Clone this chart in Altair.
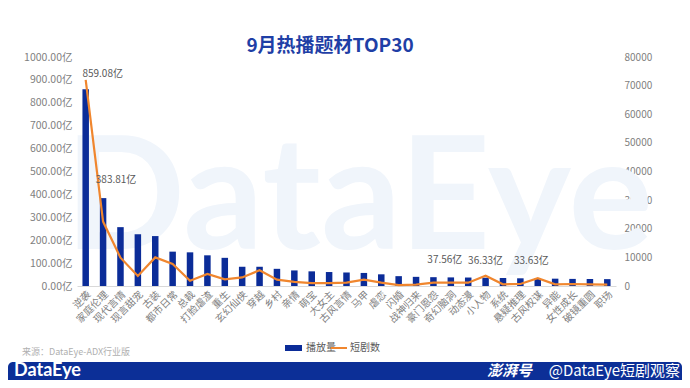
import altair as alt
import pandas as pd

categories = ["逆袭", "家庭伦理", "现代言情", "现言甜宠", "古装", "都市日常", "总裁", "打脸虐渣",
              "重生", "玄幻仙侠", "穿越", "乡村", "亲情", "萌宝", "大女主", "古风言情", "马甲",
              "虐恋", "闪婚", "战神归来", "豪门恩怨", "奇幻脑洞", "动态漫", "小人物", "系统",
              "悬疑推理", "古风权谋", "异能", "女性成长", "破镜重圆", "职场"]
plays = [859.08, 383.81, 257, 226, 218, 150, 147, 134, 123, 84, 84, 75, 68, 64, 61, 59, 57,
         51, 43, 40, 38.5, 37.56, 37, 36.33, 35, 33.63, 33, 32, 31, 30.5, 30]
counts = [72000, 22500, 9900, 3500, 10000, 7700, 1850, 4200, 2340, 3000, 5500, 2200, 1450,
          1000, 1000, 1150, 2200, 1150, 300, 450, 1150, 1150, 1150, 3600, 600, 700, 2750,
          600, 700, 600, 500]
label_cats = ["逆袭", "家庭伦理", "奇幻脑洞", "小人物", "悬疑推理"]
label_texts = ["859.08亿", "383.81亿", "37.56亿", "36.33亿", "33.63亿"]
left_ticks = [0, 100, 200, 300, 400, 500, 600, 700, 800, 900, 1000]
right_ticks = [0, 10000, 20000, 30000, 40000, 50000, 60000, 70000, 80000]

df = pd.DataFrame({"题材": categories, "播放量": plays, "短剧数": counts})
lab_df = pd.DataFrame({"题材": label_cats, "播放量": [plays[categories.index(c)] for c in label_cats],
                       "label": label_texts})

FONT = "Noto Sans CJK SC"
BLUE = "#0b2c98"
ORANGE = "#f0862e"
W, H = 539, 229

xaxis = alt.Axis(labelAngle=-45, ticks=False, domainColor="#d9d9d9",
                 labelColor="#7f7f7f", labelFontSize=10, labelPadding=3,
                 labelFont=FONT, title=None)
xenc = alt.X("题材:N", sort=None, scale=alt.Scale(domain=categories), axis=xaxis)

base = alt.Chart(df)
deco = alt.Chart(alt.Data(values=[{"k": 1}]))

watermark = deco.mark_text(text="DataEye", font="Lato", fontWeight="bold", fontSize=158,
                           color="#f0f5fb", align="center", baseline="alphabetic").encode(
    x=alt.value(282), y=alt.value(192))

bars = base.mark_bar(width=6.5, color=BLUE).encode(
    x=xenc,
    y=alt.Y("播放量:Q", scale=alt.Scale(domain=[0, 1000]),
            axis=alt.Axis(orient="left", values=left_ticks, ticks=False, domain=False,
                          grid=False, labelColor="#7f7f7f", labelFontSize=10.5,
                          labelFont=FONT, labelPadding=5, title=None,
                          labelExpr="format(datum.value, '.2f') + '亿'")))

line = base.mark_line(color=ORANGE, strokeWidth=2.2).encode(
    x=xenc,
    y=alt.Y("短剧数:Q", scale=alt.Scale(domain=[0, 80000]),
            axis=alt.Axis(orient="right", values=right_ticks, ticks=False, domain=False,
                          grid=False, labelColor="#7f7f7f", labelFontSize=10,
                          labelFont=FONT, labelPadding=8, title=None, format="d")))

offsets = {"逆袭": (17, -10), "家庭伦理": (13, -13), "奇幻脑洞": (-6, -12),
           "小人物": (0, -12), "悬疑推理": (11, -12)}
label_layers = []
for c in label_cats:
    dx, dy = offsets[c]
    label_layers.append(
        alt.Chart(lab_df).transform_filter(alt.datum["题材"] == c).mark_text(
            font=FONT, fontSize=10, color="#595959", dx=dx, dy=dy, align="center",
            baseline="bottom").encode(
            x=xenc,
            y=alt.Y("播放量:Q", scale=alt.Scale(domain=[0, 1000]), axis=None),
            text="label:N"))

title = deco.mark_text(text="9月热播题材TOP30", font=FONT, fontWeight="bold", fontSize=19,
                       color="#1f3fa6", align="center", baseline="middle").encode(
    x=alt.value(253), y=alt.value(-11))

leg_rect = deco.mark_rect(color=BLUE).encode(
    x=alt.value(208), x2=alt.value(225), y=alt.value(288), y2=alt.value(294))
leg_t1 = deco.mark_text(text="播放量", font=FONT, fontSize=10, color="#595959",
                        align="left", baseline="middle").encode(x=alt.value(229), y=alt.value(291))
leg_line = deco.mark_rule(color=ORANGE, strokeWidth=2).encode(
    x=alt.value(254), x2=alt.value(270), y=alt.value(291))
leg_t2 = deco.mark_text(text="短剧数", font=FONT, fontSize=10, color="#595959",
                        align="left", baseline="middle").encode(x=alt.value(273), y=alt.value(291))

source = deco.mark_text(text="来源：DataEye-ADX行业版", font=FONT, fontSize=9, color="#b0b0b0",
                        align="left", baseline="middle").encode(x=alt.value(-55), y=alt.value(295))

banner = deco.mark_rect(color="#0c2f97", cornerRadius=5).encode(
    x=alt.value(-69), x2=alt.value(605), y=alt.value(305), y2=alt.value(335))
ban_logo = deco.mark_text(text="DataEye", font="Lato", fontWeight="bold", fontSize=18,
                          color="white", align="left", baseline="middle").encode(
    x=alt.value(-63), y=alt.value(314))
ban_pp = deco.mark_text(text="澎湃号", font=FONT, fontWeight="bold", fontStyle="italic",
                        fontSize=15, color="white", align="left", baseline="middle").encode(
    x=alt.value(410), y=alt.value(314))
ban_r = deco.mark_text(text="@DataEye短剧观察", font=FONT, fontSize=15, color="white",
                       align="right", baseline="middle").encode(x=alt.value(603), y=alt.value(314))

chart = alt.layer(watermark, bars, line, *label_layers, title, leg_rect, leg_t1, leg_line,
                  leg_t2, source, banner, ban_logo, ban_pp, ban_r).resolve_scale(
    y="independent").properties(
    width=W, height=H,
    autosize=alt.AutoSizeParams(type="none"),
    padding={"left": 69, "top": 49, "right": 66, "bottom": 94},
    background="white").configure_view(stroke=None).configure_axis(grid=False)

chart.save("out.html", embed_options={"renderer": "svg", "actions": False})
